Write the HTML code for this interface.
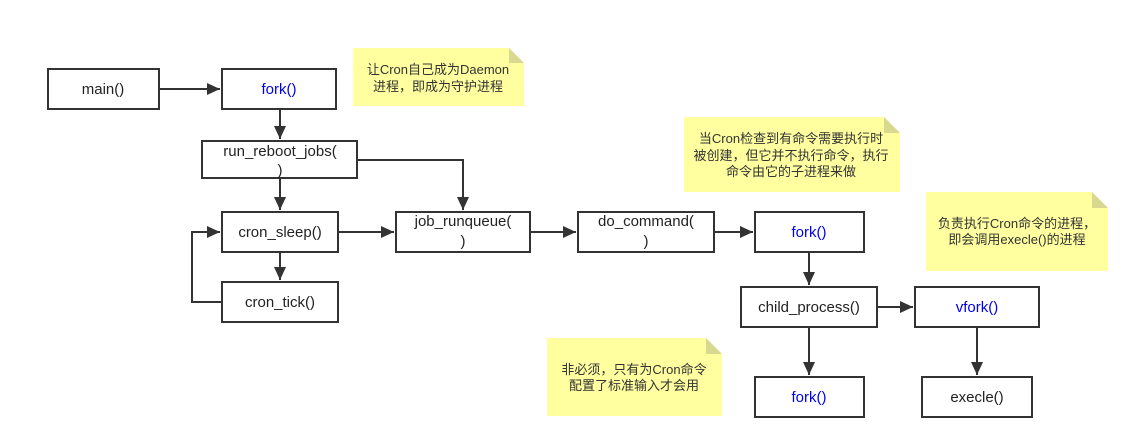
<!DOCTYPE html>
<html><head><meta charset="utf-8"><style>
body{margin:0;background:#fff;}
svg{display:block;font-family:"Liberation Sans","Noto Sans CJK SC",sans-serif;}
.b{fill:#fff;stroke:#333;stroke-width:2;}
.l{stroke:#333;stroke-width:2;fill:none;}
.t{font-size:15px;fill:#222;text-anchor:middle;}
.blue{fill:#0000ee;}
.n{font-size:13px;fill:#333;text-anchor:middle;}
.note{fill:#ffffa0;}
.fold{fill:#d8d890;}
</style></head><body>
<svg width="1138" height="448" viewBox="0 0 1138 448">
<defs><marker id="a" markerWidth="14" markerHeight="14" refX="13" refY="6" orient="auto" markerUnits="userSpaceOnUse"><path d="M0,0 L13,6 L0,12 z" fill="#333"/></marker></defs>
<path class="note" d="M353,48 H509 L524,63 V106 H353 z"/><path class="fold" d="M509,48 L524,63 H509 z"/>
<text class="n" x="438" y="74">让Cron自己成为Daemon</text><text class="n" x="438" y="91">进程，即成为守护进程</text>
<path class="note" d="M684,117 H884 L900,133 V192 H684 z"/><path class="fold" d="M884,117 L900,133 H884 z"/>
<text class="n" x="791" y="143">当Cron检查到有命令需要执行时</text><text class="n" x="791" y="160">被创建，但它并不执行命令，执行</text><text class="n" x="791" y="176">命令由它的子进程来做</text>
<path class="note" d="M926,192 H1092 L1108,208 V271 H926 z"/><path class="fold" d="M1092,192 L1108,208 H1092 z"/>
<text class="n" x="1017" y="228">负责执行Cron命令的进程，</text><text class="n" x="1017" y="244">即会调用execle()的进程</text>
<path class="note" d="M547,338 H706 L722,354 V416 H547 z"/><path class="fold" d="M706,338 L722,354 H706 z"/>
<text class="n" x="634" y="374">非必须，只有为Cron命令</text><text class="n" x="634" y="390">配置了标准输入才会用</text>
<path class="l" d="M159,89 H220" marker-end="url(#a)"/>
<path class="l" d="M280,109 V139" marker-end="url(#a)"/>
<path class="l" d="M280,178 V210" marker-end="url(#a)"/>
<path class="l" d="M357,160 H463 V210" marker-end="url(#a)"/>
<path class="l" d="M280,252 V280" marker-end="url(#a)"/>
<path class="l" d="M222,302 H192 V232 H220" marker-end="url(#a)"/>
<path class="l" d="M338,232 H394" marker-end="url(#a)"/>
<path class="l" d="M530,232 H576" marker-end="url(#a)"/>
<path class="l" d="M714,232 H753" marker-end="url(#a)"/>
<path class="l" d="M809,252 V285" marker-end="url(#a)"/>
<path class="l" d="M877,307 H913" marker-end="url(#a)"/>
<path class="l" d="M809,327 V375" marker-end="url(#a)"/>
<path class="l" d="M977,327 V375" marker-end="url(#a)"/>
<rect class="b" x="48" y="69" width="111" height="40"/><text class="t" x="103" y="94">main()</text>
<rect class="b" x="222" y="69" width="114" height="40"/><text class="t blue" x="279" y="94">fork()</text>
<rect class="b" x="202" y="141" width="155" height="37"/><text class="t" x="280" y="156">run_reboot_jobs(</text><text class="t" x="280" y="175">)</text>
<rect class="b" x="222" y="212" width="116" height="40"/><text class="t" x="280" y="237">cron_sleep()</text>
<rect class="b" x="222" y="282" width="116" height="40"/><text class="t" x="280" y="307">cron_tick()</text>
<rect class="b" x="396" y="212" width="134" height="40"/><text class="t" x="463" y="226">job_runqueue(</text><text class="t" x="463" y="246">)</text>
<rect class="b" x="578" y="212" width="136" height="40"/><text class="t" x="646" y="226">do_command(</text><text class="t" x="646" y="246">)</text>
<rect class="b" x="755" y="212" width="109" height="40"/><text class="t blue" x="809" y="237">fork()</text>
<rect class="b" x="741" y="287" width="136" height="40"/><text class="t" x="809" y="312">child_process()</text>
<rect class="b" x="915" y="287" width="124" height="40"/><text class="t blue" x="977" y="312">vfork()</text>
<rect class="b" x="755" y="377" width="109" height="40"/><text class="t blue" x="809" y="402">fork()</text>
<rect class="b" x="922" y="377" width="110" height="40"/><text class="t" x="977" y="402">execle()</text>
</svg>
</body></html>
